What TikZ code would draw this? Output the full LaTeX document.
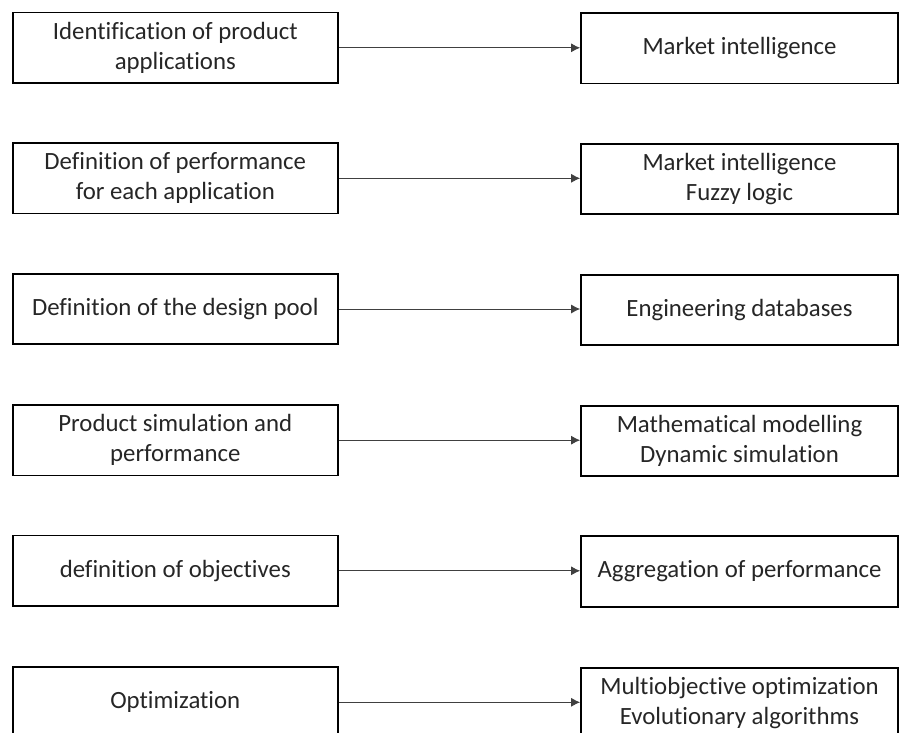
\documentclass[tikz,border=0pt]{standalone}
\usepackage{fontspec}
\setmainfont{Carlito}[RawFeature={-liga}]
\usetikzlibrary{arrows.meta}
\definecolor{txt}{HTML}{262626}
\definecolor{arr}{HTML}{404040}
\tikzset{
  lbox/.style={draw=black, line width=1.7pt, minimum width=325pt, minimum height=70.5pt,
    inner sep=0pt, align=center, text=txt, font=\fontsize{24.8}{30}\selectfont},
  rbox/.style={lbox, minimum width=317pt},
  conn/.style={draw=arr, line width=1pt, -{Latex[length=9pt,width=9pt]}}
}
\begin{document}
\begin{tikzpicture}[x=1pt,y=-1pt]
\clip (0,0) rectangle (899,733);
\fill[white] (0,0) rectangle (899,733);
\node[lbox] (l1) at (175.3,47.8) {Identification of product\\applications};
\node[lbox] (l2) at (175.3,178.3) {Definition of performance\\for each application};
\node[lbox] (l3) at (175.3,309) {Definition of the design pool};
\node[lbox] (l4) at (175.3,440.2) {Product simulation and\\performance};
\node[lbox] (l5) at (175.3,570.8) {definition of objectives};
\node[lbox] (l6) at (175.3,702.3) {Optimization};
\node[rbox] (r1) at (739.5,48.3) {Market intelligence};
\node[rbox] (r2) at (739.5,179) {Market intelligence\\Fuzzy logic};
\node[rbox] (r3) at (739.5,310) {Engineering databases};
\node[rbox] (r4) at (739.5,441) {Mathematical modelling\\Dynamic simulation};
\node[rbox] (r5) at (739.5,571.5) {Aggregation of performance};
\node[rbox] (r6) at (739.5,703) {Multiobjective optimization\\Evolutionary algorithms};
\foreach \i in {1,...,6} {
  \draw[conn] (l\i.east) -- (l\i.east -| r\i.west);
}
\end{tikzpicture}
\end{document}
